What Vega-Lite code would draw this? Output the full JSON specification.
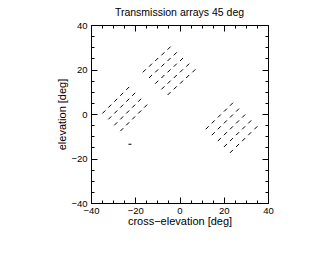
{
  "$schema": "https://vega.github.io/schema/vega-lite/v6.json",
  "width": 177,
  "height": 178,
  "autosize": {"type": "none"},
  "padding": {"left": 91, "top": 25, "right": 59, "bottom": 58},
  "background": "white",
  "title": {"text": "Transmission arrays 45 deg", "font": "Liberation Sans", "fontSize": 10.5, "fontWeight": "normal", "color": "black", "offset": 2},
  "config": {
    "view": {"stroke": "black", "strokeWidth": 1},
    "axis": {"domain": false, "grid": false, "tickColor": "black", "tickWidth": 1, "labelColor": "black", "labelFont": "Liberation Sans", "labelFontSize": 9.5, "titleFont": "Liberation Sans", "titleFontSize": 11, "titleFontWeight": "normal", "titleColor": "black", "labelFlush": false, "labelOverlap": false}
  },
  "data": {"values": [
    {"x": -23.4, "y": 11.5, "kind": "diag"}, {"x": -20.7, "y": 8.85, "kind": "diag"}, {"x": -18.0, "y": 6.2, "kind": "diag"}, {"x": -15.3, "y": 3.55, "kind": "diag"},
    {"x": -26.1, "y": 8.85, "kind": "diag"}, {"x": -23.4, "y": 6.2, "kind": "diag"}, {"x": -20.7, "y": 3.55, "kind": "diag"}, {"x": -18.0, "y": 0.9, "kind": "diag"},
    {"x": -28.8, "y": 6.2, "kind": "diag"}, {"x": -26.1, "y": 3.55, "kind": "diag"}, {"x": -23.4, "y": 0.9, "kind": "diag"}, {"x": -20.7, "y": -1.75, "kind": "diag"},
    {"x": -31.5, "y": 3.55, "kind": "diag"}, {"x": -28.8, "y": 0.9, "kind": "diag"}, {"x": -26.1, "y": -1.75, "kind": "diag"}, {"x": -23.4, "y": -4.4, "kind": "diag"},
    {"x": -34.2, "y": 0.9, "kind": "diag"}, {"x": -31.5, "y": -1.75, "kind": "diag"}, {"x": -28.8, "y": -4.4, "kind": "diag"}, {"x": -26.1, "y": -7.05, "kind": "diag"},
    {"x": -4.7, "y": 29.6, "kind": "diag"}, {"x": -1.9, "y": 27.05, "kind": "diag"}, {"x": 0.9, "y": 24.5, "kind": "diag"}, {"x": 3.7, "y": 21.95, "kind": "diag"}, {"x": 6.5, "y": 19.4, "kind": "diag"},
    {"x": -7.5, "y": 27.05, "kind": "diag"}, {"x": -4.7, "y": 24.5, "kind": "diag"}, {"x": -1.9, "y": 21.95, "kind": "diag"}, {"x": 0.9, "y": 19.4, "kind": "diag"}, {"x": 3.7, "y": 16.85, "kind": "diag"},
    {"x": -10.3, "y": 24.5, "kind": "diag"}, {"x": -7.5, "y": 21.95, "kind": "diag"}, {"x": -4.7, "y": 19.4, "kind": "diag"}, {"x": -1.9, "y": 16.85, "kind": "diag"}, {"x": 0.9, "y": 14.3, "kind": "diag"},
    {"x": -13.1, "y": 21.95, "kind": "diag"}, {"x": -10.3, "y": 19.4, "kind": "diag"}, {"x": -7.5, "y": 16.85, "kind": "diag"}, {"x": -4.7, "y": 14.3, "kind": "diag"}, {"x": -1.9, "y": 11.75, "kind": "diag"},
    {"x": -15.9, "y": 19.4, "kind": "diag"}, {"x": -13.1, "y": 16.85, "kind": "diag"}, {"x": -10.3, "y": 14.3, "kind": "diag"}, {"x": -7.5, "y": 11.75, "kind": "diag"}, {"x": -4.7, "y": 9.2, "kind": "diag"},
    {"x": 23.5, "y": 4.4, "kind": "diag"}, {"x": 26.25, "y": 1.75, "kind": "diag"}, {"x": 29.0, "y": -0.9, "kind": "diag"}, {"x": 31.75, "y": -3.55, "kind": "diag"}, {"x": 34.5, "y": -6.2, "kind": "diag"},
    {"x": 20.75, "y": 1.75, "kind": "diag"}, {"x": 23.5, "y": -0.9, "kind": "diag"}, {"x": 26.25, "y": -3.55, "kind": "diag"}, {"x": 29.0, "y": -6.2, "kind": "diag"}, {"x": 31.75, "y": -8.85, "kind": "diag"},
    {"x": 18.0, "y": -0.9, "kind": "diag"}, {"x": 20.75, "y": -3.55, "kind": "diag"}, {"x": 23.5, "y": -6.2, "kind": "diag"}, {"x": 26.25, "y": -8.85, "kind": "diag"}, {"x": 29.0, "y": -11.5, "kind": "diag"},
    {"x": 15.25, "y": -3.55, "kind": "diag"}, {"x": 18.0, "y": -6.2, "kind": "diag"}, {"x": 20.75, "y": -8.85, "kind": "diag"}, {"x": 23.5, "y": -11.5, "kind": "diag"}, {"x": 26.25, "y": -14.15, "kind": "diag"},
    {"x": 12.5, "y": -6.2, "kind": "diag"}, {"x": 15.25, "y": -8.85, "kind": "diag"}, {"x": 18.0, "y": -11.5, "kind": "diag"}, {"x": 20.75, "y": -14.15, "kind": "diag"}, {"x": 23.5, "y": -16.8, "kind": "diag"},
    {"x": -22.4, "y": -13.6, "kind": "horiz"}
  ]},
  "layer": [
    {
      "mark": {"type": "point", "filled": false, "color": "black", "strokeWidth": 1, "size": 9, "opacity": 1},
      "encoding": {
        "x": {"field": "x", "type": "quantitative", "scale": {"domain": [-40, 40], "nice": false, "zero": false},
              "axis": {"orient": "bottom", "values": [-40, -20, 0, 20, 40], "tickSize": -6, "labelPadding": 8, "title": "cross−elevation [deg]", "titlePadding": 1}},
        "y": {"field": "y", "type": "quantitative", "scale": {"domain": [-40, 40], "nice": false, "zero": false},
              "axis": {"orient": "left", "values": [-40, -20, 0, 20, 40], "tickSize": -6, "labelPadding": 10, "title": "elevation [deg]", "titlePadding": 3}},
        "shape": {"field": "kind", "type": "nominal", "scale": {"domain": ["diag", "horiz"], "range": ["M-1,1L1,-1", "M-1,0L1,0"]}, "legend": null}
      }
    },
    {
      "mark": {"type": "point", "opacity": 0},
      "encoding": {
        "x": {"field": "x", "type": "quantitative", "axis": {"orient": "top", "values": [-40, -20, 0, 20, 40], "tickSize": -6, "labels": false, "title": null}},
        "y": {"field": "y", "type": "quantitative", "axis": {"orient": "right", "values": [-40, -20, 0, 20, 40], "tickSize": -6, "labels": false, "title": null}}
      }
    },
    {
      "mark": {"type": "point", "opacity": 0},
      "encoding": {
        "x": {"field": "x", "type": "quantitative", "axis": {"orient": "bottom", "values": [-35, -30, -25, -15, -10, -5, 5, 10, 15, 25, 30, 35], "tickSize": -3, "labels": false, "title": null}},
        "y": {"field": "y", "type": "quantitative", "axis": {"orient": "left", "values": [-35, -30, -25, -15, -10, -5, 5, 10, 15, 25, 30, 35], "tickSize": -3, "labels": false, "title": null}}
      }
    },
    {
      "mark": {"type": "point", "opacity": 0},
      "encoding": {
        "x": {"field": "x", "type": "quantitative", "axis": {"orient": "top", "values": [-35, -30, -25, -15, -10, -5, 5, 10, 15, 25, 30, 35], "tickSize": -3, "labels": false, "title": null}},
        "y": {"field": "y", "type": "quantitative", "axis": {"orient": "right", "values": [-35, -30, -25, -15, -10, -5, 5, 10, 15, 25, 30, 35], "tickSize": -3, "labels": false, "title": null}}
      }
    }
  ],
  "resolve": {"axis": {"x": "independent", "y": "independent"}}
}
